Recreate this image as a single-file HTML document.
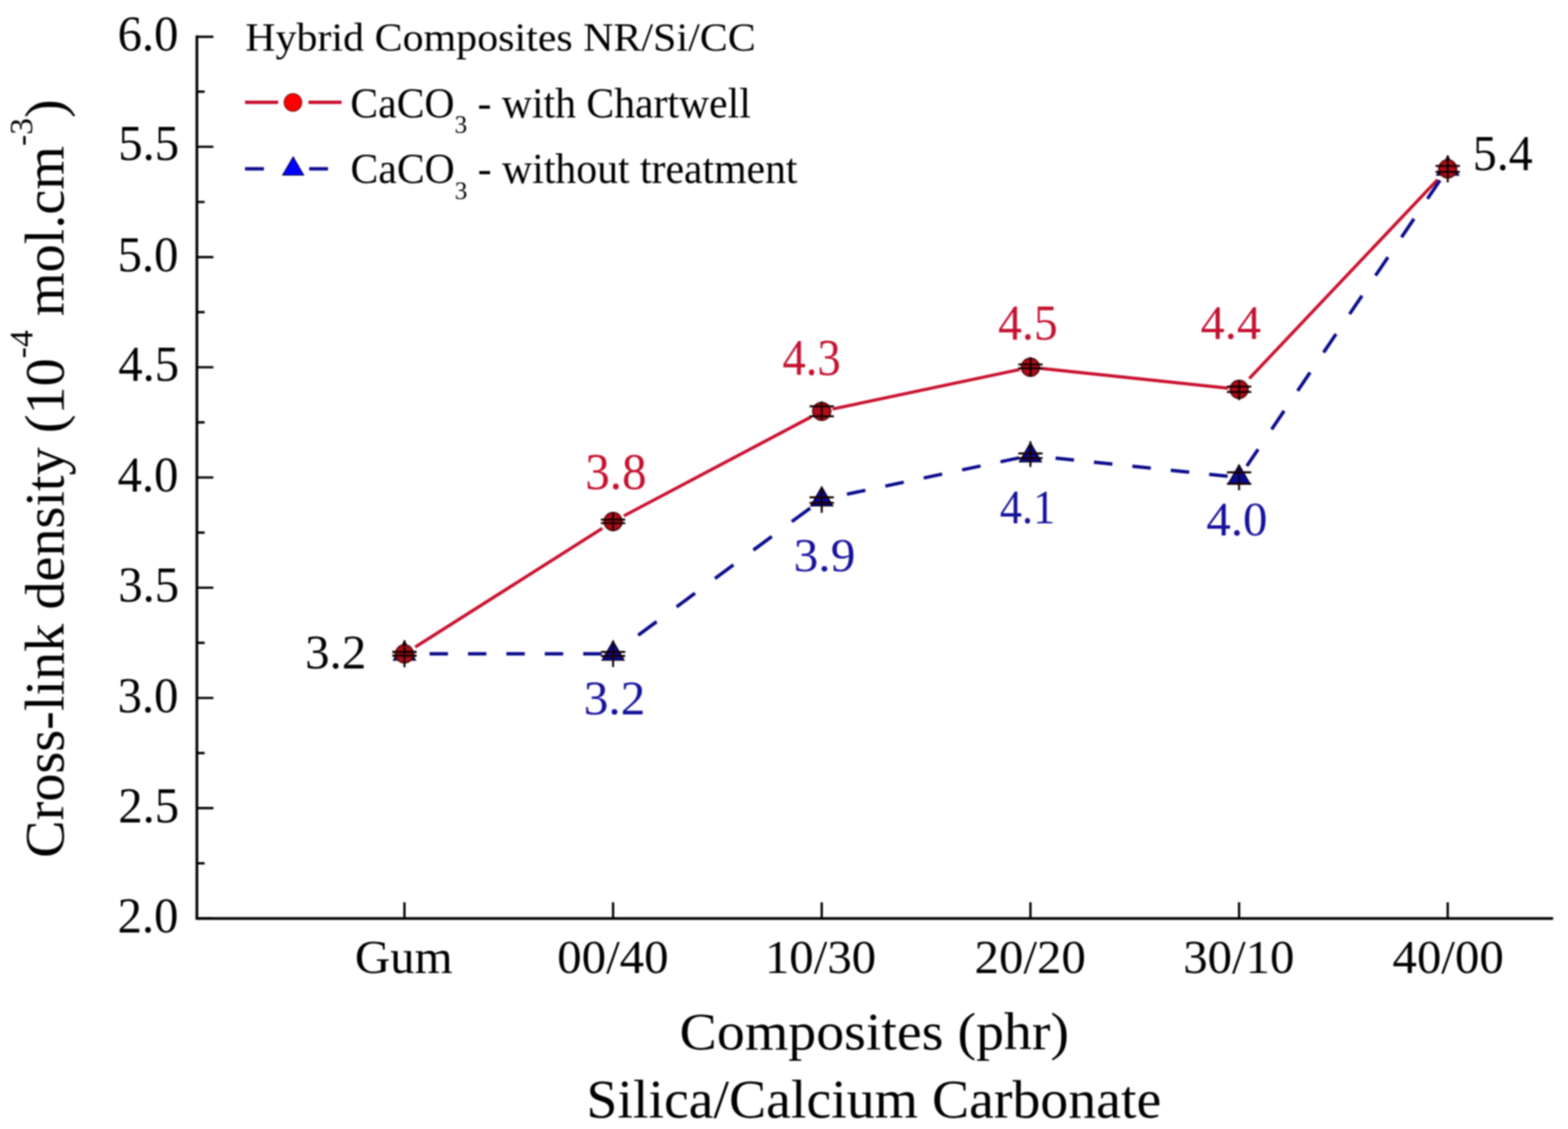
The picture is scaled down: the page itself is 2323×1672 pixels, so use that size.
<!DOCTYPE html><html><head><meta charset="utf-8"><style>html,body{margin:0;padding:0;background:#fff;overflow:hidden}svg{display:block;filter:blur(1.1px)}</style></head><body><svg width="2323" height="1672" viewBox="0 0 2323 1672" font-family="'Liberation Serif','Times New Roman',serif">
<rect width="2323" height="1672" fill="#fff"/>
<path d="M291.7,52.5 V1362.2 M289.7,1360.2 H2301" stroke="#000" stroke-width="4" fill="none"/>
<path d="M291.7,1360.1 H316.2 M291.7,1278.5 H303.2 M291.7,1196.8 H316.2 M291.7,1115.2 H303.2 M291.7,1033.6 H316.2 M291.7,952.0 H303.2 M291.7,870.4 H316.2 M291.7,788.8 H303.2 M291.7,707.1 H316.2 M291.7,625.5 H303.2 M291.7,543.9 H316.2 M291.7,462.3 H303.2 M291.7,380.7 H316.2 M291.7,299.1 H303.2 M291.7,217.4 H316.2 M291.7,135.8 H303.2 M291.7,54.5 H316.2 M599.2,1360.2 V1336.2 M908.3,1360.2 V1336.2 M1217.4,1360.2 V1336.2 M1526.6,1360.2 V1336.2 M1835.7,1360.2 V1336.2 M2144.8,1360.2 V1336.2" stroke="#000" stroke-width="3.4" fill="none"/>
<g transform="translate(262.20,1330.88) scale(0.9884,1.0020) translate(-89,50)"><text font-size="73">2.0</text></g>
<g transform="translate(262.20,1167.64) scale(0.9884,1.0020) translate(-88,50)"><text font-size="73">2.5</text></g>
<g transform="translate(262.20,1004.41) scale(0.9884,1.0020) translate(-89,50)"><text font-size="73">3.0</text></g>
<g transform="translate(262.20,841.18) scale(0.9884,1.0020) translate(-88,50)"><text font-size="73">3.5</text></g>
<g transform="translate(262.20,677.94) scale(0.9884,1.0020) translate(-89,50)"><text font-size="73">4.0</text></g>
<g transform="translate(262.20,514.71) scale(0.9884,1.0020) translate(-88,49)"><text font-size="73">4.5</text></g>
<g transform="translate(262.20,351.47) scale(0.9884,1.0020) translate(-89,50)"><text font-size="73">5.0</text></g>
<g transform="translate(262.20,188.24) scale(0.9884,1.0020) translate(-88,49)"><text font-size="73">5.5</text></g>
<g transform="translate(262.20,25.30) scale(0.9884,1.0020) translate(-89,50)"><text font-size="73">6.0</text></g>
<g transform="translate(599.20,1392.70) scale(0.9916,0.9618) translate(-74.0,50)"><text font-size="73">Gum</text></g>
<g transform="translate(908.32,1392.70) scale(0.9916,0.9618) translate(-83.5,50)"><text font-size="73">00/40</text></g>
<g transform="translate(1217.44,1392.70) scale(0.9916,0.9618) translate(-85.0,50)"><text font-size="73">10/30</text></g>
<g transform="translate(1526.56,1392.70) scale(0.9916,0.9618) translate(-83.5,50)"><text font-size="73">20/20</text></g>
<g transform="translate(1835.68,1392.70) scale(0.9916,0.9618) translate(-83.5,50)"><text font-size="73">30/10</text></g>
<g transform="translate(2144.80,1392.70) scale(0.9916,0.9618) translate(-82.5,50)"><text font-size="73">40/00</text></g>
<g transform="translate(455.10,939.80) scale(0.9929,0.9941) translate(-3,50)"><text font-size="73" fill="#000">3.2</text></g>
<g transform="translate(870.90,673.00) scale(0.9988,1.0327) translate(-4,49)"><text font-size="73" fill="#C41230">3.8</text></g>
<g transform="translate(1160.10,504.30) scale(0.9460,1.0347) translate(-1,49)"><text font-size="73" fill="#C41230">4.3</text></g>
<g transform="translate(1479.80,453.20) scale(0.9644,1.0102) translate(-1,49)"><text font-size="73" fill="#C41230">4.5</text></g>
<g transform="translate(1779.80,453.50) scale(0.9787,0.9816) translate(-1,49)"><text font-size="73" fill="#C41230">4.4</text></g>
<g transform="translate(2185.90,202.70) scale(0.9721,1.0000) translate(-4,49)"><text font-size="73" fill="#000">5.4</text></g>
<g transform="translate(867.70,1009.30) scale(1.0024,0.9745) translate(-3,50)"><text font-size="73" fill="#16129C">3.2</text></g>
<g transform="translate(1178.80,797.50) scale(1.0024,0.9647) translate(-3,50)"><text font-size="73" fill="#16129C">3.9</text></g>
<g transform="translate(1482.20,726.90) scale(0.8988,0.9800) translate(-1,49)"><text font-size="73" fill="#16129C">4.1</text></g>
<g transform="translate(1788.30,743.70) scale(0.9920,0.9863) translate(-1,50)"><text font-size="73" fill="#16129C">4.0</text></g>
<g transform="translate(365.30,32.70) scale(0.9869,0.9424) translate(-2,45)"><text font-size="63">Hybrid Composites NR/Si/CC</text></g>
<g transform="translate(521.00,129.90) scale(0.9807,1.0045) translate(-2,44)"><text font-size="63">CaCO<tspan font-size="38" dy="23">3</tspan><tspan dy="-23"> - with Chartwell</tspan></text></g>
<g transform="translate(521.20,226.70) scale(0.9811,1.0164) translate(-2,44)"><text font-size="63">CaCO<tspan font-size="38" dy="23">3</tspan><tspan dy="-23"> - without treatment</tspan></text></g>
<g transform="translate(1009.80,1499.80) scale(1.0009,0.9533) translate(-3,57)"><text font-size="82.7">Composites (phr)</text></g>
<g transform="translate(873.80,1599.60) scale(0.9996,0.9600) translate(-5,58)"><text font-size="82.7">Silica/Calcium Carbonate</text></g>
<g transform="translate(15.60,1267.50) rotate(-90) scale(1.0066,0.9990) translate(-3,78)"><text font-size="82.7">Cross-link density (10<tspan font-size="49.6" dy="-45.5">-4</tspan><tspan dy="45.5"> mol.cm</tspan><tspan font-size="49.6" dy="-45.5">-3</tspan><tspan dy="45.5">)</tspan></text></g>
<path d="M615.2,958.2 L892.3,782.6 M924.3,764.0 L1201.4,617.6 M1233.4,605.8 L1510.6,547.3 M1542.6,545.6 L1819.7,574.9 M1850.8,560.6 L2129.7,266.1" stroke="#C8102E" stroke-width="4.7" fill="none"/>
<path d="M891.3,968.3 L616.2,968.3" stroke="#0A0A8C" stroke-width="5" fill="none" stroke-dasharray="27.30 29.60"/>
<path d="M1200.4,752.4 L925.3,955.7" stroke="#0A0A8C" stroke-width="5" fill="none" stroke-dasharray="33.95 36.81"/>
<path d="M1509.6,678.1 L1234.4,736.2" stroke="#0A0A8C" stroke-width="5" fill="none" stroke-dasharray="27.90 30.25"/>
<path d="M1818.7,705.3 L1543.6,676.3" stroke="#0A0A8C" stroke-width="5" fill="none" stroke-dasharray="27.45 29.76"/>
<path d="M2133.3,267.1 L1847.2,690.1" stroke="#0A0A8C" stroke-width="5" fill="none" stroke-dasharray="32.96 35.73"/>
<path d="M599.2,949.8 L615.2,977.6 L583.2,977.6 Z" fill="#0A0A9C" stroke="#000030" stroke-width="2"/>
<path d="M908.3,949.8 L924.3,977.6 L892.3,977.6 Z" fill="#0A0A9C" stroke="#000030" stroke-width="2"/>
<path d="M1217.4,721.3 L1233.4,749.0 L1201.4,749.0 Z" fill="#0A0A9C" stroke="#000030" stroke-width="2"/>
<path d="M1526.6,656.0 L1542.6,683.7 L1510.6,683.7 Z" fill="#0A0A9C" stroke="#000030" stroke-width="2"/>
<path d="M1835.7,688.7 L1851.7,716.4 L1819.7,716.4 Z" fill="#0A0A9C" stroke="#000030" stroke-width="2"/>
<path d="M2144.8,231.6 L2160.8,259.3 L2128.8,259.3 Z" fill="#0A0A9C" stroke="#000030" stroke-width="2"/>
<circle cx="599.2" cy="968.3" r="13.3" fill="#B00C1A" stroke="#500808" stroke-width="2"/>
<circle cx="908.3" cy="772.4" r="13.3" fill="#B00C1A" stroke="#500808" stroke-width="2"/>
<circle cx="1217.4" cy="609.2" r="13.3" fill="#B00C1A" stroke="#500808" stroke-width="2"/>
<circle cx="1526.6" cy="543.9" r="13.3" fill="#B00C1A" stroke="#500808" stroke-width="2"/>
<circle cx="1835.7" cy="576.6" r="13.3" fill="#B00C1A" stroke="#500808" stroke-width="2"/>
<circle cx="2144.8" cy="250.1" r="13.3" fill="#B00C1A" stroke="#500808" stroke-width="2"/>
<path d="M599.2,948.3 V988.3 M581.2,965.8 H617.2 M581.2,970.8 H617.2 M908.3,758.4 V786.4 M890.3,769.4 H926.3 M890.3,774.7 H926.3 M1217.4,594.5 V621.5 M1199.4,601.8 H1235.4 M1199.4,616.6 H1235.4 M1526.6,528.9 V557.9 M1508.6,539.7 H1544.6 M1508.6,545.4 H1544.6 M1835.7,563.6 V592.6 M1817.7,572.6 H1853.7 M1817.7,580.6 H1853.7 M2144.8,230.1 V270.1 M2126.8,245.8 H2162.8 M2126.8,254.4 H2162.8 M599.2,948.3 V988.3 M581.2,965.3 H617.2 M581.2,971.3 H617.2 M908.3,948.5 V987.8 M890.3,965.4 H926.3 M890.3,971.6 H926.3 M1217.4,721.2 V759.5 M1199.4,736.5 H1235.4 M1199.4,744.8 H1235.4 M1526.6,653.5 V691.5 M1508.6,671.4 H1544.6 M1508.6,678.5 H1544.6 M1835.7,688.6 V726.1 M1817.7,699.6 H1853.7 M1817.7,716.5 H1853.7 M2144.8,230.1 V270.1 M2126.8,245.8 H2162.8 M2126.8,254.4 H2162.8" stroke="#1a0000" stroke-width="3" fill="none"/>
<path d="M363,151.5 H412 M457,151.5 H506" stroke="#C8102E" stroke-width="5"/>
<circle cx="434" cy="151.8" r="13" fill="#FF0000" stroke="#8A0A10" stroke-width="1.5"/>
<path d="M363,250 H391 M458,250 H486" stroke="#0A0A8C" stroke-width="5.2"/>
<path d="M434.3,232.4 L449.8,259.2 L418.8,259.2 Z" fill="#0000FF" stroke="#000060" stroke-width="1.5"/>
</svg></body></html>
